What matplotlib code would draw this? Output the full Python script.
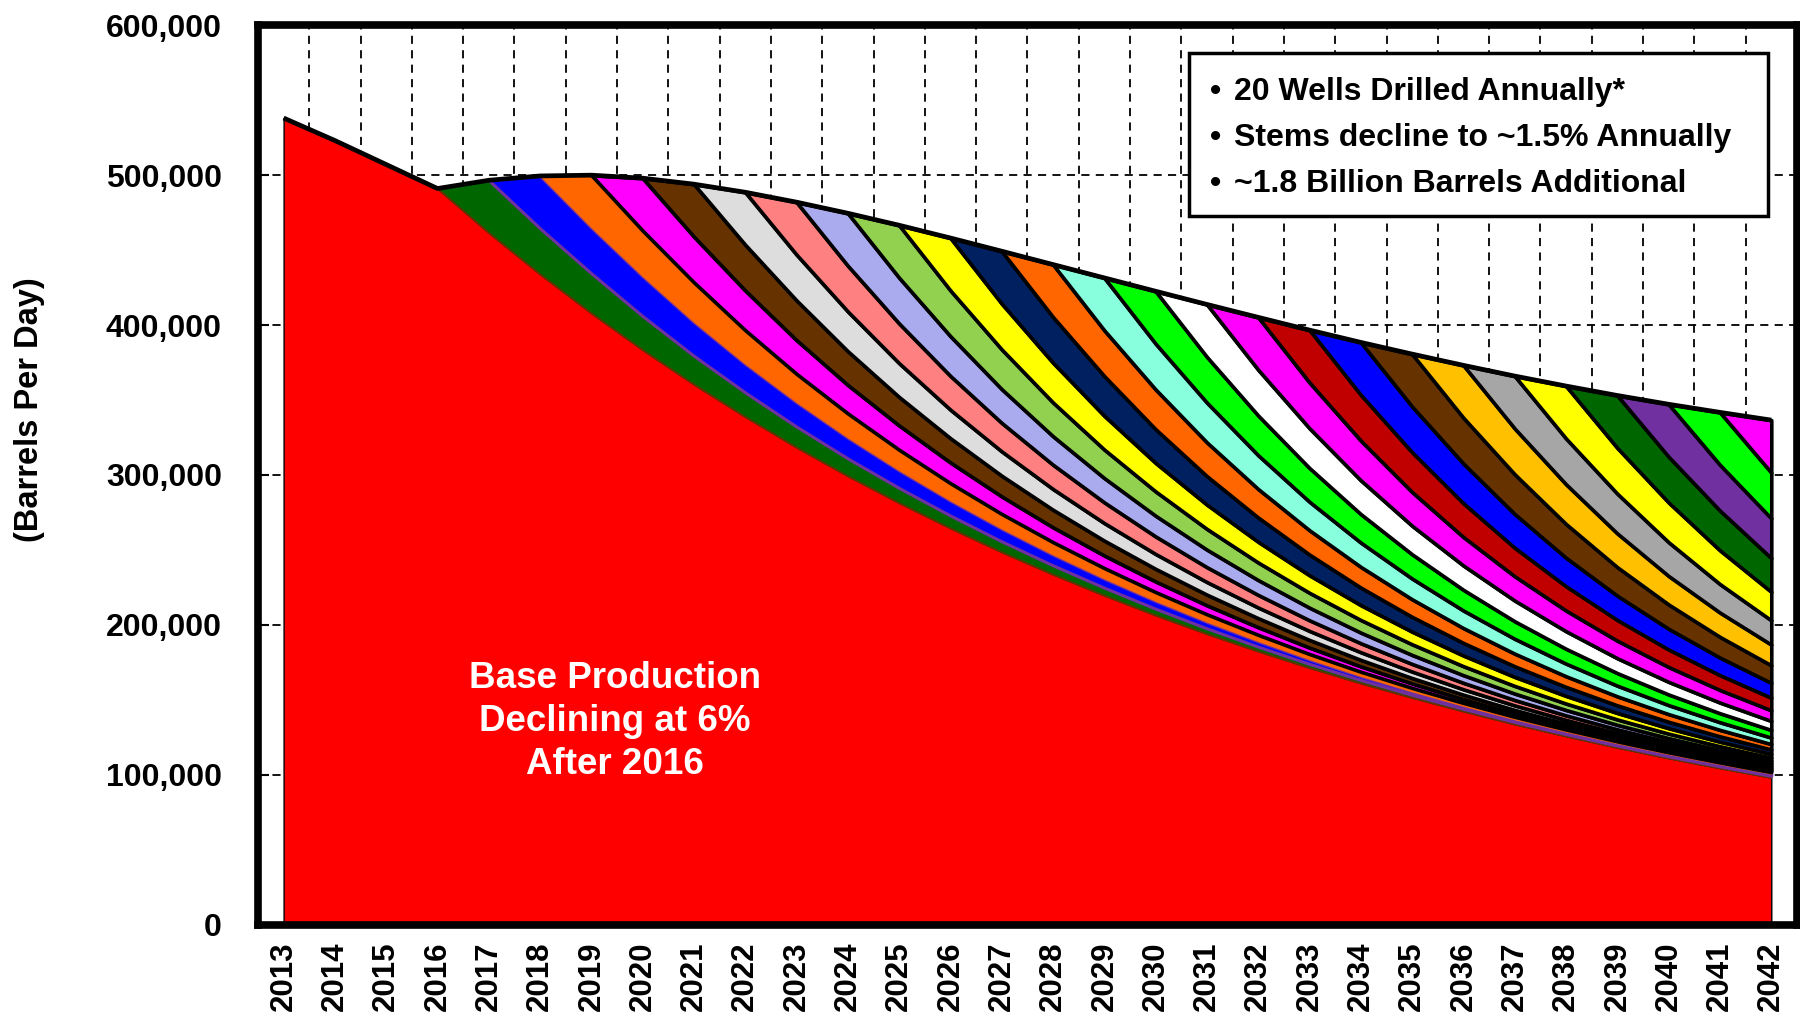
import numpy as np
import matplotlib.pyplot as plt
from matplotlib.patches import Rectangle
from matplotlib.ticker import FuncFormatter

plt.rcParams['font.family'] = ['Liberation Sans', 'DejaVu Sans']
plt.rcParams['font.weight'] = 'bold'

years = [2013, 2014, 2015, 2016, 2017, 2018, 2019, 2020, 2021, 2022,
         2023, 2024, 2025, 2026, 2027, 2028, 2029, 2030, 2031, 2032,
         2033, 2034, 2035, 2036, 2037, 2038, 2039, 2040, 2041, 2042]

# base production, barrels per day (6% decline after 2016)
base = [538000, 523000, 507000, 491000, 461500, 433900, 407900, 383400,
        360400, 338800, 318400, 299300, 281400, 264500, 248600, 233700,
        219700, 206500, 194100, 182500, 171500, 161200, 151600, 142500,
        133900, 125900, 118300, 111200, 104600, 98300]

# production of one year's 20 new wells by age (years after start)
well_profile = [0, 35000, 30500, 26500, 22500, 19000, 16200, 13800, 11700,
                9900, 8400, 7100, 6000, 5100, 4300, 3600, 3000, 2500, 2100,
                1800, 1600, 1450, 1350, 1300, 1250, 1200, 1150]

cohort_years = years[3:29]
cohort_colors = ['#006600', '#0000FF', '#FF6600', '#FF00FF', '#663300',
                 '#DDDDDD', '#FF8080', '#AAAAEE', '#92D050', '#FFFF00',
                 '#002060', '#FF6600', '#88FFDD', '#00FF00', '#FFFFFF',
                 '#FF00FF', '#C00000', '#0000FF', '#663300', '#FFC000',
                 '#A6A6A6', '#FFFF00', '#006600', '#7030A0', '#00FF00',
                 '#FF00FF']
edge_colors = ['#663300', '#7030A0', '#FF6600'] + ['black'] * 23
edge_widths = [1.3, 2.2, 0.3] + [2.6] * 23

x = np.arange(len(years))

fig = plt.figure(figsize=(18, 10.18), dpi=100)
ax = fig.add_axes([0.1433, 0.0914, 0.855, 0.884])

ax.fill_between(x, 0, base, facecolor='#FF0000', edgecolor='black',
                linewidth=1, zorder=2)

lower = np.array(base, dtype=float)
for start, col, ec, lw in zip(cohort_years, cohort_colors, edge_colors, edge_widths):
    s = years.index(start)
    vals = np.zeros(len(years))
    vals[s:] = well_profile[:len(years) - s]
    upper = lower + vals
    ax.fill_between(x[s:], lower[s:], upper[s:], facecolor=col,
                    edgecolor=ec, linewidth=lw, zorder=3)
    lower = upper

ax.plot(x, lower, color='black', lw=3.4, zorder=5, solid_capstyle='butt')

ax.set_xlim(-0.5, len(years) - 0.5)
ax.set_ylim(0, 600000)
ax.set_xticks(x)
ax.set_xticklabels([str(y) for y in years])
ax.set_xticks(x[:-1] + 0.5, minor=True)
ax.set_yticks(np.arange(0, 600001, 100000))
ax.yaxis.set_major_formatter(FuncFormatter(lambda v, p: f'{int(v):,}'))

ax.set_axisbelow(True)
ax.xaxis.grid(True, which='minor', color='black', lw=1.3, ls=(0, (4.5, 3.5)))
ax.xaxis.grid(False, which='major')
ax.yaxis.grid(True, which='major', color='black', lw=1.3, ls=(0, (4.5, 3.5)))

ax.tick_params(axis='x', which='major', length=0, pad=12, labelsize=22.5,
               labelrotation=90)
ax.tick_params(axis='x', which='minor', direction='in', length=8, width=1.3)
ax.tick_params(axis='y', direction='in', length=8, width=1.5, pad=26,
               labelsize=23)
for sp in ax.spines.values():
    sp.set_linewidth(5.5)
    sp.set_color('black')

fig.text(0.0165, 0.598, '(Barrels Per Day)', rotation=90, ha='center',
         va='center', fontsize=23.5, fontweight='bold')

ax.text(0.232, 0.226, 'Base Production\nDeclining at 6%\nAfter 2016',
        transform=ax.transAxes, ha='center', va='center', color='white',
        fontsize=26.5, fontweight='bold', linespacing=1.3, zorder=6)

ax.add_patch(Rectangle((0.605, 0.788), 0.376, 0.181, transform=ax.transAxes,
                       facecolor='white', edgecolor='black', lw=2.5, zorder=7))
notes = ['20 Wells Drilled Annually*', 'Stems decline to ~1.5% Annually',
         '~1.8 Billion Barrels Additional']
for yy, note in zip([0.926, 0.874, 0.823], notes):
    ax.text(0.622, yy, '\u2022', transform=ax.transAxes, ha='center',
            va='center', fontsize=23, fontweight='bold', zorder=8)
    ax.text(0.634, yy, note, transform=ax.transAxes, ha='left',
            va='center', fontsize=23, fontweight='bold', zorder=8)

plt.savefig('out.png', dpi=100)
